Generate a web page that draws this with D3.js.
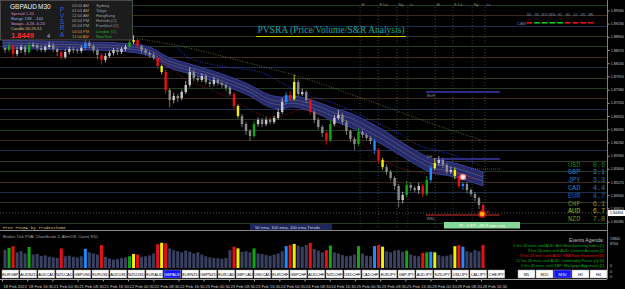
<!DOCTYPE html>
<html>
<head>
<meta charset="utf-8">
<script src="https://cdn.jsdelivr.net/npm/d3@7"></script>
<style>
  body { margin: 0; background: #000; }
  svg { display: block; font-family: "Liberation Sans", Arial, sans-serif; }
</style>
</head>
<body>
<div class="svg_area"></div>
<script>
// GBPAUD M30 - PVSRA chart

var svgWidth = 625;
var svgHeight = 289;

// candles, oldest first (prices), wicks in pips
var firstOpen = 1.8862;
var closes = [
  1.8857, 1.8867, 1.8847, 1.8857, 1.88645, 1.8852, 1.88695, 1.88695, 1.8862, 1.8857,
  1.88645, 1.88695, 1.88595, 1.8852, 1.88395, 1.8852, 1.88595, 1.8857, 1.88545, 1.8862,
  1.88745, 1.8867, 1.8857, 1.88445, 1.8832, 1.8842, 1.88495, 1.8857, 1.8852, 1.88595,
  1.88645, 1.8877, 1.8882, 1.8867, 1.8857, 1.88495, 1.88445, 1.8837, 1.8817, 1.8802,
  1.8757, 1.8732, 1.8742, 1.8737, 1.8752, 1.87695, 1.8802, 1.8787, 1.8782, 1.8792,
  1.8777, 1.8772, 1.8782, 1.87745, 1.87695, 1.8762, 1.8747, 1.8717, 1.8692, 1.8672,
  1.86545, 1.8642, 1.8672, 1.8682, 1.8672, 1.8682, 1.8677, 1.8687, 1.8702, 1.8727,
  1.87445, 1.87345, 1.8777, 1.8747, 1.8752, 1.8732, 1.8702, 1.8682, 1.86645, 1.86495,
  1.8632, 1.8672, 1.8687, 1.86945, 1.8677, 1.86545, 1.86345, 1.8622, 1.8652, 1.86445,
  1.8637, 1.86295, 1.8607, 1.8582, 1.85645, 1.8552, 1.8537, 1.8517, 1.8482, 1.84945,
  1.85195, 1.8512, 1.8507, 1.8517, 1.8497, 1.8532, 1.8562, 1.85745, 1.8582, 1.85695,
  1.8552, 1.8557, 1.8542, 1.8517, 1.8522, 1.8507, 1.8497, 1.8487, 1.84695, 1.84495
];
var wickUp = [
  6, 10, 5, 8, 6, 5, 8, 6, 5, 7,
  5, 8, 6, 4, 5, 7, 6, 5, 4, 6,
  10, 6, 5, 4, 5, 7, 6, 5, 6, 5,
  6, 8, 12, 5, 4, 5, 4, 6, 5, 4,
  5, 4, 8, 5, 6, 10, 12, 6, 5, 7,
  5, 6, 8, 5, 4, 5, 4, 5, 4, 5,
  4, 5, 8, 6, 5, 7, 5, 6, 8, 10,
  8, 10, 18, 6, 8, 5, 4, 5, 6, 5,
  4, 10, 8, 12, 6, 5, 4, 5, 10, 6,
  5, 6, 5, 4, 5, 6, 5, 4, 5, 8,
  10, 6, 5, 8, 5, 10, 8, 12, 10, 6,
  5, 8, 6, 5, 6, 5, 4, 5, 4, 3
];
var wickDn = [
  8, 5, 10, 6, 7, 8, 5, 6, 8, 5,
  6, 5, 8, 10, 7, 5, 6, 8, 6, 5,
  5, 6, 8, 10, 12, 6, 5, 6, 8, 5,
  5, 4, 5, 6, 8, 6, 7, 5, 8, 6,
  10, 18, 8, 10, 6, 5, 6, 8, 6, 5,
  6, 8, 5, 6, 7, 8, 6, 8, 6, 8,
  10, 12, 5, 6, 8, 5, 6, 5, 4, 5,
  6, 5, 4, 6, 5, 8, 6, 8, 6, 10,
  12, 5, 6, 5, 8, 10, 8, 15, 6, 8,
  6, 8, 10, 8, 6, 8, 6, 10, 18, 8,
  6, 8, 6, 10, 8, 5, 6, 5, 6, 8,
  6, 5, 8, 6, 10, 8, 6, 8, 10, 8
];
var volumes = [
  650, 720, 780, 560, 600, 520, 750, 480, 500, 430,
  450, 400, 380, 360, 700, 420, 440, 400, 380, 420,
  680, 560, 520, 480, 820, 400, 340, 300, 320, 360,
  380, 420, 500, 480, 400, 420, 450, 520, 850, 900,
  880, 700, 640, 600, 560, 620, 580, 520, 560, 480,
  420, 380, 360, 350, 330, 360, 640, 760, 700, 580,
  600, 560, 700, 520, 500, 460, 440, 480, 520, 600,
  780, 820, 860, 800, 760, 820, 900, 680, 620, 560,
  640, 800, 560, 520, 460, 420, 440, 480, 780, 520,
  440, 420, 780, 820, 760, 600, 560, 620, 640, 580,
  620, 480, 440, 420, 540, 560, 580, 560, 460, 420,
  440, 480, 780, 820, 760, 600, 560, 640, 600, 820
];
// PVSRA coloured bars: [bar, kind]
var specialBars = [
  [1, "g"], [2, "r"], [6, "g"], [14, "r"], [20, "b"], [24, "r"], [31, "g"], [32, "y"], [33, "r"],
  [38, "r"], [39, "y"], [40, "r"], [57, "r"], [58, "y"], [62, "g"], [70, "b"], [71, "r"], [72, "y"],
  [76, "r"], [80, "r"], [81, "g"], [88, "g"], [92, "b"], [93, "r"], [94, "y"], [100, "g"], [104, "r"],
  [105, "g"], [106, "b"], [107, "y"], [112, "y"], [113, "r"], [114, "b"], [119, "r"]
];

// moving averages (bar, price)
var ribbonBars = [0, 9, 19, 29, 36.5, 41, 46.5, 51.5, 57.3, 61.5, 65.7, 69, 71.5, 74, 79, 82.2, 86.4, 90.6, 95.1, 98.8, 103.8, 107, 111.3, 115, 119.5];
var ribbonTop = [1.8882, 1.88795, 1.8877, 1.88745, 1.88645, 1.88395, 1.8822, 1.8807, 1.8787, 1.87695, 1.8747, 1.87395, 1.8742, 1.87395, 1.87245, 1.8712, 1.86995, 1.86795, 1.86545, 1.86295, 1.85995, 1.85845, 1.8577, 1.8567, 1.8552];
var ribbonBot = [1.8862, 1.88595, 1.8857, 1.88545, 1.8842, 1.88145, 1.8797, 1.8782, 1.87595, 1.8742, 1.8717, 1.87095, 1.87145, 1.8712, 1.86945, 1.86795, 1.86645, 1.8642, 1.8617, 1.85945, 1.85645, 1.85495, 1.8542, 1.8532, 1.8517];
var ema100Bars = [42.8, 46.5, 54, 64, 69, 74, 82.2, 90.6, 98.8, 104, 110.5, 119.3];
var ema100 = [1.8867, 1.8837, 1.8817, 1.8802, 1.8777, 1.87495, 1.87245, 1.8687, 1.8647, 1.8617, 1.85995, 1.8567];
var ema200Bars = [34, 44, 58.3, 74, 90.6, 98.8, 107, 119];
var ema200 = [1.88845, 1.8867, 1.8832, 1.87895, 1.8732, 1.8702, 1.8672, 1.8632];
var lowBandBars = [38.6, 41.6, 45.8, 50.8, 57.3, 62.7, 66.5, 70.2, 74, 79, 83.9, 88.9, 93.9, 98.8, 105, 112.5, 119.3];
var lowBand = [1.8837, 1.88145, 1.8782, 1.8762, 1.8732, 1.8702, 1.86895, 1.86945, 1.8707, 1.86945, 1.8662, 1.8627, 1.8587, 1.8562, 1.85495, 1.8552, 1.8522];

// levels
var levelPrices = [1.8970, 1.8944, 1.8918, 1.8892, 1.8866, 1.8840, 1.8814, 1.8788, 1.8762, 1.8736, 1.8710,
  1.8684, 1.8658, 1.8632, 1.8606, 1.8580, 1.8554, 1.8528, 1.8502, 1.8476, 1.8424];
var srLabels = ["WsH", "DH", "WSL"];
var srPrices = [1.8752, 1.85845, 1.84445];
var srColors = ["#2c2c80", "#2c2c80", "#6a1818"];
var bidPrice = 1.84494;
var priceTicks = [1.89560, 1.89230, 1.88900, 1.88570, 1.88240, 1.87910, 1.87580, 1.87250, 1.86920,
  1.86590, 1.86260, 1.85930, 1.85600, 1.85270, 1.84940, 1.84610, 1.84280];

// sessions
var sessionLabels = ["H", "F Lo", "Ny", "Lc", "H", "F Lo", "Ny", "Lc"];
var sessionBars = [88.9, 93.4, 98.1, 100.8, 107.6, 112, 116.8, 120];

var timeLabels = ["18 Feb 2022", "18 Feb 16:30", "21 Feb 00:30", "21 Feb 08:30", "21 Feb 16:30",
  "22 Feb 00:30", "22 Feb 08:30", "22 Feb 16:30", "23 Feb 00:30", "23 Feb 08:30", "23 Feb 16:30",
  "24 Feb 00:30", "24 Feb 08:30", "24 Feb 16:30", "25 Feb 00:30", "25 Feb 08:30", "25 Feb 16:30",
  "28 Feb 00:30", "28 Feb 08:30", "28 Feb 16:30"];

// currency strength
var currencies = ["USD", "GBP", "JPY", "CAD", "EUR", "CHF", "AUD", "NZD"];
var strength = [0.6, 3.1, 3.3, 4.4, 4.7, 6.1, 6.7, 7.0];
var strengthColors = ["#148a14", "#2a80b8", "#2a80b8", "#2a80b8", "#1f6fb0", "#8c8c1c", "#b4b424", "#8c8c1c"];

// info panel
var cityTimes = ["03:04 AM", "01:04 AM", "12:04 AM", "06:04 PM", "05:04 PM", "04:04 PM", "11:04 AM"];
var cityNames = ["Sydney", "Tokyo", "HongKong", "Helsinki (C)", "Frankfurt (C)", "London (O)", "NewYork"];

var camFrames = ["M1", "M5", "M15", "M30", "H1", "H4", "D1", "W1", "MN"];
var camUp = [false, true, true, true, true, false, false, false, false];

var pairs = ["EURGBP", "AUDNZD", "AUDCAD", "NZDCAD", "GBPUSD", "EURUSD", "AUDUSD", "NZDUSD", "EURAUD", "GBPAUD",
  "EURNZD", "GBPNZD", "EURCAD", "GBPCAD", "USDCAD", "EURCHF", "GBPCHF", "AUDCHF", "NZDCHF", "USDCHF",
  "CADCHF", "EURJPY", "GBPJPY", "AUDJPY", "NZDJPY", "USDJPY", "CADJPY", "CHFJPY"];
var frames = ["M5", "M15", "M30", "H1", "H4"];

var events = [
  "5 hrs 26 mins until AUD: AiG Manufacturing Index   [1]",
  "9 hrs 26 mins until AUD: Current Account   [2]",
  "9 hrs 26 mins until AUD: RBA Rate Statement   [3]",
  "12 hrs 26 mins until AUD: Commodity Prices y/y   [4]",
  "0 hrs 26 mins until GBP: Mortgage Approvals   [5]"
];
var eventColors = ["#10b010", "#10b010", "#e01010", "#10b010", "#10b010"];

// ---------------------------------------------------------------
var kindColor = { r: "#e81010", g: "#12a612", y: "#f0f000", b: "#1e8cff" };
var special = {};
specialBars.forEach(function(s) { special[s[0]] = s[1]; });

var candles = closes.map(function(c, i) {
  var o = i === 0 ? firstOpen : closes[i - 1];
  return {
    i: i, o: o, c: c, v: volumes[i],
    h: Math.max(o, c) + wickUp[i] * 0.0001,
    l: Math.min(o, c) - wickDn[i] * 0.0001,
    kind: special[i]
  };
});

var svg = d3.select(".svg_area")
  .append("svg")
  .attr("width", svgWidth)
  .attr("height", svgHeight);

svg.append("rect").attr("width", svgWidth).attr("height", svgHeight).attr("fill", "#000");

var xScale = d3.scaleLinear().domain([0, 120]).range([3, 485]);
var yScale = d3.scaleLinear().domain([1.8982, 1.84095]).range([0, 229]);
var volScale = d3.scaleLinear().domain([0, 1000]).range([268, 240]);

var main = svg.append("g");

// level lines
var levelColors = ["#1f3d1f", "#3c2b18", "#1c2f4e", "#333326"];
main.selectAll(".level")
  .data(levelPrices)
  .enter()
  .append("line")
  .attr("x1", 0).attr("x2", 607)
  .attr("y1", d => Math.round(yScale(d)) + 0.5)
  .attr("y2", d => Math.round(yScale(d)) + 0.5)
  .attr("stroke", (d, i) => levelColors[i % 4])
  .attr("stroke-width", 1);

// bid line
main.append("line")
  .attr("x1", 0).attr("x2", 607)
  .attr("y1", yScale(bidPrice)).attr("y2", yScale(bidPrice))
  .attr("stroke", "#6a6a6a").attr("stroke-dasharray", "1,2").attr("stroke-width", 0.8);

// session separators
main.selectAll(".sess")
  .data(sessionBars)
  .enter()
  .append("line")
  .attr("x1", d => xScale(d)).attr("x2", d => xScale(d))
  .attr("y1", 7).attr("y2", 229)
  .attr("stroke", "#5a5a5a").attr("stroke-dasharray", "1,2").attr("stroke-width", 0.7);
main.selectAll(".sessLabel")
  .data(sessionLabels)
  .enter()
  .append("text")
  .attr("x", (d, i) => xScale(sessionBars[i]) + 1.5)
  .attr("y", 5.5)
  .attr("font-size", 4)
  .attr("fill", "#8a8a8a")
  .text(d => d);

// ribbon
var ribbon = ribbonBars.map((b, i) => ({ b: b, t: ribbonTop[i], l: ribbonBot[i] }));
main.append("path")
  .datum(ribbon)
  .attr("d", d3.area().curve(d3.curveCatmullRom)
    .x(d => xScale(d.b)).y0(d => yScale(d.l)).y1(d => yScale(d.t)))
  .attr("fill", "#262a68")
  .attr("stroke", "#3d44a0")
  .attr("stroke-width", 0.9);
[0.35, 0.65].forEach(function(f) {
  main.append("path")
    .datum(ribbon)
    .attr("d", d3.line().curve(d3.curveCatmullRom)
      .x(d => xScale(d.b)).y(d => yScale(d.t + (d.l - d.t) * f)))
    .attr("fill", "none")
    .attr("stroke", "#8686a6")
    .attr("stroke-width", 0.4);
});

// dotted averages
function dotted(bars, vals, color) {
  main.append("path")
    .datum(bars.map((b, i) => [b, vals[i]]))
    .attr("d", d3.line().curve(d3.curveCatmullRom).x(d => xScale(d[0])).y(d => yScale(d[1])))
    .attr("fill", "none")
    .attr("stroke", color)
    .attr("stroke-width", 0.8)
    .attr("stroke-dasharray", "1,1.5");
}
dotted(ema200Bars, ema200, "#7e7a3c");
dotted(ema100Bars, ema100, "#3048ff");
dotted(lowBandBars, lowBand, "#a82020");

// short purple dotted level
main.append("line")
  .attr("x1", xScale(116.5)).attr("x2", xScale(124))
  .attr("y1", yScale(1.85595)).attr("y2", yScale(1.85595))
  .attr("stroke", "#a040c0").attr("stroke-dasharray", "1,1").attr("stroke-width", 0.8);

// S/R levels
main.selectAll(".sr")
  .data(srPrices)
  .enter()
  .append("line")
  .attr("x1", xScale(105.3)).attr("x2", xScale(123.7))
  .attr("y1", d => yScale(d)).attr("y2", d => yScale(d))
  .attr("stroke", (d, i) => srColors[i])
  .attr("stroke-width", 1.8);
main.selectAll(".srLabel")
  .data(srLabels)
  .enter()
  .append("text")
  .attr("x", xScale(105.5))
  .attr("y", (d, i) => yScale(srPrices[i]) + (i === 1 ? -1.5 : 5))
  .attr("font-size", 3.8)
  .attr("fill", "#9a9a9a")
  .text(d => d);

// candles
var bw = 2.4;
var candleG = main.selectAll(".candle")
  .data(candles)
  .enter()
  .append("g");
function candleColor(d) {
  if (d.kind) return kindColor[d.kind];
  return d.c >= d.o ? "#c8c8c8" : "#8a8a8a";
}
candleG.append("line")
  .attr("x1", d => xScale(d.i + 0.5)).attr("x2", d => xScale(d.i + 0.5))
  .attr("y1", d => yScale(d.h)).attr("y2", d => yScale(d.l))
  .attr("stroke", candleColor)
  .attr("stroke-width", 0.8);
candleG.append("rect")
  .attr("x", d => xScale(d.i + 0.5) - bw / 2)
  .attr("width", bw)
  .attr("y", d => yScale(Math.max(d.o, d.c)))
  .attr("height", d => Math.max(0.8, yScale(Math.min(d.o, d.c)) - yScale(Math.max(d.o, d.c))))
  .attr("fill", candleColor);

// markers
main.append("circle")
  .attr("cx", xScale(114.5)).attr("cy", yScale(1.85395)).attr("r", 2.6)
  .attr("fill", "#fff0f0").attr("stroke", "#ff8080").attr("stroke-width", 1.2);
main.append("circle")
  .attr("cx", xScale(119.3)).attr("cy", yScale(1.8447)).attr("r", 3)
  .attr("fill", "#ffb400").attr("stroke", "#e01818").attr("stroke-width", 1.3);
main.append("circle")
  .attr("cx", xScale(120.7)).attr("cy", yScale(1.8452)).attr("r", 0.9)
  .attr("fill", "#e01818");

// price axis
var priceAxis = d3.axisRight(yScale)
  .tickValues(priceTicks)
  .tickFormat(d3.format(".5f"))
  .tickSize(2);
var pAxis = svg.append("g")
  .attr("transform", "translate(607.5,0)")
  .call(priceAxis);
pAxis.select(".domain").remove();
pAxis.selectAll("line").attr("stroke", "#a0a0a0");
pAxis.selectAll("text").attr("fill", "#c8c8c8").attr("font-size", 3.6).attr("x", 3.2);
svg.append("line").attr("x1", 607.5).attr("x2", 607.5).attr("y1", 0).attr("y2", 279)
  .attr("stroke", "#a0a0a0").attr("stroke-width", 0.8);

// bid label
svg.append("rect").attr("x", 608).attr("y", yScale(bidPrice) - 3).attr("width", 17).attr("height", 6)
  .attr("fill", "#ffffff");
svg.append("text").attr("x", 610).attr("y", yScale(bidPrice) + 1.4).attr("font-size", 3.6)
  .attr("fill", "#000").text(d3.format(".5f")(bidPrice));

// title
svg.append("text")
  .attr("x", 331).attr("y", 33)
  .attr("text-anchor", "middle")
  .attr("font-family", "'Liberation Serif', 'Times New Roman', serif")
  .attr("font-size", 9.5)
  .attr("fill", "#1aa6a6")
  .text("PVSRA (Price/Volume/S&R Analysis)");
svg.append("line").attr("x1", 256).attr("x2", 406).attr("y1", 36.5).attr("y2", 36.5)
  .attr("stroke", "#c8c800").attr("stroke-width", 1);

// CAM row
svg.append("text").attr("x", 517).attr("y", 24.5).attr("font-size", 4).attr("fill", "#6a88a8").text("CAM");
camFrames.forEach(function(f, i) {
  svg.append("rect").attr("x", 526.5 + i * 7.7).attr("y", 22).attr("width", 5.6).attr("height", 1.6)
    .attr("fill", camUp[i] ? "#10d010" : "#ee1010");
  svg.append("text").attr("x", 529.3 + i * 7.7).attr("y", 15.5).attr("text-anchor", "middle")
    .attr("font-size", 3.2).attr("fill", "#7088a0").text(f);
});

// currency strength
currencies.forEach(function(c, i) {
  var y = 166.5 + i * 7.8;
  svg.append("text").attr("x", 568).attr("y", y)
    .attr("font-family", "'Liberation Mono', 'DejaVu Sans Mono', monospace")
    .attr("font-size", 6.8).attr("fill", strengthColors[i]).text(c);
  svg.append("text").attr("x", 605).attr("y", y).attr("text-anchor", "end")
    .attr("font-family", "'Liberation Mono', 'DejaVu Sans Mono', monospace")
    .attr("font-size", 6.8).attr("fill", strengthColors[i]).text(strength[i].toFixed(1));
});

// PL box
svg.append("rect").attr("x", 444).attr("y", 222).attr("width", 76).attr("height", 6.5).attr("fill", "#86d896");
svg.append("text").attr("x", 482).attr("y", 226.8).attr("text-anchor", "middle").attr("font-size", 4.2)
  .attr("fill", "#f4fff4").text("PL: 1 EP, +85.9 pips avg");

// footer texts of main window
svg.append("text").attr("x", 3).attr("y", 228.5).attr("font-size", 4.2)
  .attr("font-family", "'Liberation Mono', monospace")
  .attr("fill", "#d8c878").text("Free PVSRA by Tradeathome");
svg.append("rect").attr("x", 250).attr("y", 224).attr("width", 82).attr("height", 6.5).attr("fill", "#1e2658");
svg.append("text").attr("x", 255).attr("y", 228.7).attr("font-size", 4.2)
  .attr("fill", "#c8d0f0").text("50 ema, 100 ema, 200 ema Trends");

// info panel
var panel = svg.append("g");
panel.append("rect").attr("x", 0.5).attr("y", 0.5).attr("width", 132).attr("height", 39.5)
  .attr("fill", "#1c1c1c").attr("stroke", "#5a5a5a").attr("stroke-width", 0.8);
panel.append("text").attr("x", 10).attr("y", 9).attr("font-size", 6.5).attr("fill", "#f0f0f0").text("GBPAUD");
panel.append("text").attr("x", 38).attr("y", 9).attr("font-size", 6.5).attr("fill", "#f0f0f0").text("M30");
var infoLines = [["Spread  1.20", "#c888d0"], ["Range  138  ...144", "#88b8e8"], ["Swaps  -4.26  -6.20", "#d898d8"], ["Candle  00:25:51", "#dab888"]];
infoLines.forEach(function(l, i) {
  panel.append("text").attr("x", 11).attr("y", 14.5 + i * 5).attr("font-size", 4.2).attr("fill", l[1]).text(l[0]);
});
panel.append("text").attr("x", 11).attr("y", 38).attr("font-size", 7.5).attr("font-weight", "bold")
  .attr("fill", "#ff2a2a").text("1.8449");
panel.append("text").attr("x", 47).attr("y", 38).attr("font-size", 5.5).attr("fill", "#c0c0c0").text("4");
"PVSRA".split("").forEach(function(ch, i) {
  panel.append("text").attr("x", 62).attr("y", 11.5 + i * 6.3).attr("text-anchor", "middle")
    .attr("font-size", 6.5).attr("fill", "#3a5ed0").text(ch);
});
cityTimes.forEach(function(t, i) {
  var y = 6.5 + i * 5.2;
  panel.append("text").attr("x", 72).attr("y", y).attr("font-size", 4)
    .attr("fill", i >= 5 ? "#d88a28" : "#a0a0a0").text(t);
  panel.append("text").attr("x", 96).attr("y", y).attr("font-size", 4)
    .attr("fill", i >= 5 ? "#2aaa2a" : "#a0a0a0").text(cityNames[i]);
});

// ---------------- volume sub window ----------------
svg.append("line").attr("x1", 0).attr("x2", 607).attr("y1", 230.5).attr("y2", 230.5)
  .attr("stroke", "#8a8a8a").attr("stroke-width", 1);
svg.append("text").attr("x", 3).attr("y", 237.5).attr("font-size", 4.2).attr("fill", "#a8a8a8")
  .text("Broker Tick PVA:  ChartScale 2, AlertOff, Count 910");

svg.selectAll(".vol")
  .data(candles)
  .enter()
  .append("rect")
  .attr("x", d => xScale(d.i + 0.5) - 1.5)
  .attr("width", 3)
  .attr("y", d => volScale(d.v))
  .attr("height", d => volScale(0) - volScale(d.v))
  .attr("fill", d => d.kind ? kindColor[d.kind] : "#3a4060");

svg.append("text").attr("x", 604).attr("y", 241.5).attr("text-anchor", "end").attr("font-size", 5)
  .attr("fill", "#c0c0c0").text("Events Agenda:");
events.forEach(function(e, i) {
  svg.append("text").attr("x", 604).attr("y", 247 + i * 5.1).attr("text-anchor", "end")
    .attr("font-size", 3.9).attr("fill", eventColors[i]).text(e);
});
svg.append("text").attr("x", 610).attr("y", 240).attr("font-size", 3.6).attr("fill", "#c0c0c0").text("13840");
svg.append("text").attr("x", 610).attr("y", 244.5).attr("font-size", 3.6).attr("fill", "#c0c0c0").text("8704");
[267, 272.5, 278].forEach(function(y) {
  svg.append("text").attr("x", 610).attr("y", y).attr("font-size", 3.6).attr("fill", "#c0c0c0").text("0");
});

// pair buttons
var pairG = svg.selectAll(".pair")
  .data(pairs)
  .enter()
  .append("g")
  .attr("transform", (d, i) => `translate(${2 + i * 18}, 270)`);
pairG.append("rect").attr("width", 16.8).attr("height", 8)
  .attr("fill", d => d === "GBPAUD" ? "#1414ff" : "#ffffff")
  .attr("stroke", "#9a9a9a").attr("stroke-width", 0.5);
pairG.append("text").attr("x", 8.4).attr("y", 5.5).attr("text-anchor", "middle").attr("font-size", 3.9)
  .attr("fill", d => d === "GBPAUD" ? "#ffffff" : "#000000").text(d => d);

var frameG = svg.selectAll(".frame")
  .data(frames)
  .enter()
  .append("g")
  .attr("transform", (d, i) => `translate(${518 + i * 18}, 270)`);
frameG.append("rect").attr("width", 17).attr("height", 8)
  .attr("fill", d => d === "M30" ? "#1414ff" : "#ffffff")
  .attr("stroke", "#9a9a9a").attr("stroke-width", 0.5);
frameG.append("text").attr("x", 8.5).attr("y", 5.5).attr("text-anchor", "middle").attr("font-size", 4)
  .attr("fill", d => d === "M30" ? "#ffffff" : "#000000").text(d => d);

// time axis
var timeScale = d3.scalePoint().domain(timeLabels).range([2, 481]);
var tAxis = svg.append("g")
  .attr("transform", "translate(0,279.5)")
  .call(d3.axisBottom(timeScale).tickSize(2).tickSizeOuter(0));
tAxis.select(".domain").attr("stroke", "#a0a0a0").attr("d", "M0,0H607");
tAxis.selectAll("line").attr("stroke", "#a0a0a0");
tAxis.selectAll("text").attr("fill", "#c8c8c8").attr("font-size", 4.2)
  .attr("text-anchor", "start").attr("dx", 1).attr("y", 5.5);
</script>
</body>
</html>
